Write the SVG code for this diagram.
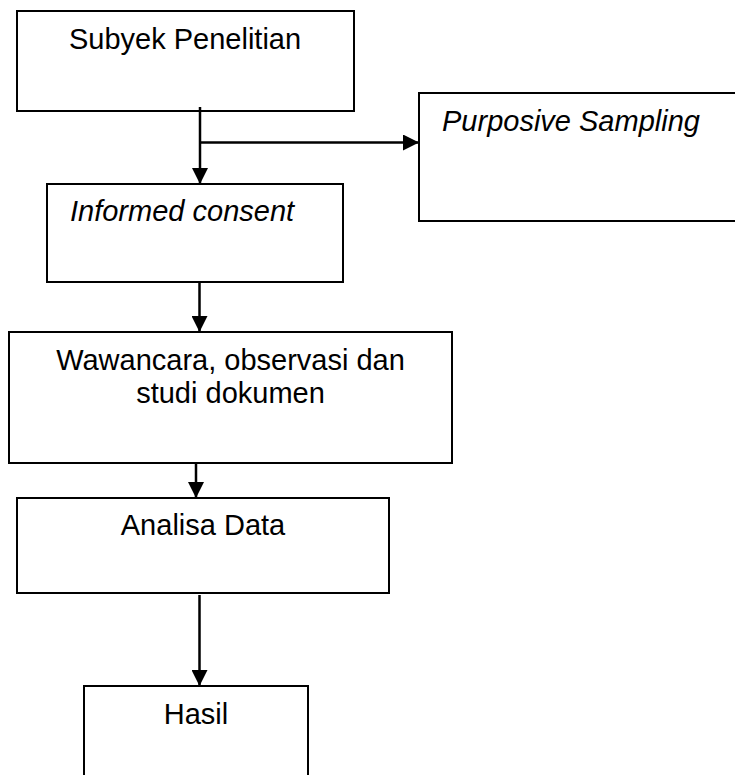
<svg xmlns="http://www.w3.org/2000/svg" width="735" height="775" viewBox="0 0 735 775">
<defs>
<style>
.box{fill:#fff;stroke:#000;stroke-width:2}
.t{font-family:"Liberation Sans",Arial,sans-serif;font-size:29px;fill:#000}
.c{text-anchor:middle}
.i{font-style:italic}
.ln{fill:none;stroke:#000;stroke-width:2.5}
</style>
<marker id="ah" viewBox="0 0 16 16" refX="16" refY="8" markerWidth="16" markerHeight="16" markerUnits="userSpaceOnUse" orient="auto">
<path d="M0,0 L16,8 L0,16 Z" fill="#000"/>
</marker>
</defs>
<rect width="735" height="775" fill="#fff"/>
<g id="subyek"><rect class="box" x="17" y="11" width="337" height="100"/><text class="t c" x="185" y="49">Subyek Penelitian</text></g>
<g id="purposive"><rect class="box" x="419" y="93" width="330" height="128"/><text class="t i" x="442" y="131">Purposive Sampling</text></g>
<g id="informed"><rect class="box" x="47" y="184" width="296" height="98"/><text class="t i" x="70" y="221">Informed consent</text></g>
<g id="wawancara"><rect class="box" x="9" y="332" width="443" height="131"/><text class="t c" x="230.5" y="370">Wawancara, observasi dan</text><text class="t c" x="230.5" y="403">studi dokumen</text></g>
<g id="analisa"><rect class="box" x="17" y="498" width="372" height="95"/><text class="t c" x="203" y="535">Analisa Data</text></g>
<g id="hasil"><rect class="box" x="84" y="686" width="224" height="100"/><text class="t c" x="196" y="724">Hasil</text></g>
<g id="connectors">
<path class="ln" d="M200,107 L200,184" marker-end="url(#ah)"/>
<path class="ln" d="M200,142.5 L419,142.5" marker-end="url(#ah)"/>
<path class="ln" d="M199.5,282 L199.5,332" marker-end="url(#ah)"/>
<path class="ln" d="M196,463 L196,498" marker-end="url(#ah)"/>
<path class="ln" d="M199.5,595 L199.5,686" marker-end="url(#ah)"/>
</g>
</svg>
